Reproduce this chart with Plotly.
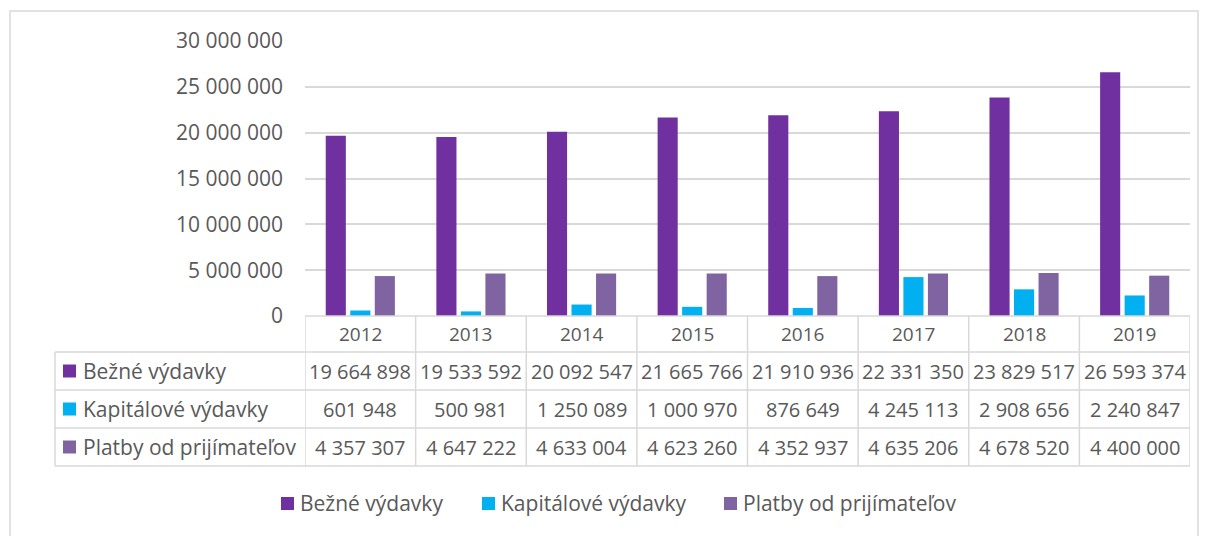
import plotly.graph_objects as go

years = ["2012", "2013", "2014", "2015", "2016", "2017", "2018", "2019"]
series_names = ["Bežné výdavky", "Kapitálové výdavky", "Platby od prijímateľov"]
bezne = [19664898, 19533592, 20092547, 21665766, 21910936, 22331350, 23829517, 26593374]
kapitalove = [601948, 500981, 1250089, 1000970, 876649, 4245113, 2908656, 2240847]
platby = [4357307, 4647222, 4633004, 4623260, 4352937, 4635206, 4678520, 4400000]
colors = ["#7030A0", "#00B0F0", "#8064A2"]
series_values = [bezne, kapitalove, platby]

W, H = 1208, 536
L, R, T, B = 305, 18, 41, 220
pw, ph = W - L - R, H - T - B

def px_x(p):
    return (p - L) / pw

def px_y(p):
    return (H - B - p) / ph

def fmt(v):
    return f"{v:,}".replace(",", " ")

TXT = "#595959"
GRID = "#D9D9D9"
FONT = "Open Sans"

fig = go.Figure()
for name, vals, c in zip(series_names, series_values, colors):
    fig.add_trace(go.Bar(x=years, y=vals, name=name, marker_color=c, marker_line_width=0,
                         showlegend=False))

shapes = []
annotations = []

# table geometry (pixels)
row_lines = [352, 390, 428, 466]
x_left = 55
shapes.append(dict(type="line", xref="paper", yref="paper", x0=0, x1=1, y0=0, y1=0,
                   line=dict(color=GRID, width=1.5)))
for rl in row_lines:
    shapes.append(dict(type="line", xref="paper", yref="paper", x0=px_x(x_left), x1=1,
                       y0=px_y(rl), y1=px_y(rl), line=dict(color=GRID, width=1.5)))
for i in range(len(years) + 1):
    shapes.append(dict(type="line", xref="x", yref="paper", x0=i - 0.5, x1=i - 0.5,
                       y0=0, y1=px_y(row_lines[-1]), line=dict(color=GRID, width=1.5)))
shapes.append(dict(type="line", xref="paper", yref="paper", x0=px_x(x_left), x1=px_x(x_left),
                   y0=px_y(row_lines[0]), y1=px_y(row_lines[-1]), line=dict(color=GRID, width=1.5)))
# outer border
shapes.append(dict(type="rect", xref="paper", yref="paper", x0=px_x(10), x1=px_x(1198),
                   y0=px_y(11), y1=px_y(545), line=dict(color=GRID, width=1.5)))

# header years
for i, yr in enumerate(years):
    annotations.append(dict(x=i, y=px_y(334), xref="x", yref="paper", text=yr, showarrow=False,
                            xanchor="center", yanchor="middle",
                            font=dict(family=FONT, size=19, color=TXT)))

# rows
row_centers = [371, 409, 447]
for name, vals, c, rc in zip(series_names, series_values, colors, row_centers):
    shapes.append(dict(type="rect", xref="paper", yref="paper", x0=px_x(63), x1=px_x(76),
                       y0=px_y(rc + 6.5), y1=px_y(rc - 6.5), fillcolor=c, line=dict(width=0)))
    annotations.append(dict(x=px_x(81), y=px_y(rc), xref="paper", yref="paper", text=name,
                            showarrow=False, xanchor="left", yanchor="middle",
                            font=dict(family=FONT, size=21, color=TXT)))
    for i, v in enumerate(vals):
        annotations.append(dict(x=i, y=px_y(rc), xref="x", yref="paper", text=fmt(v),
                                showarrow=False, xanchor="center", yanchor="middle",
                                font=dict(family=FONT, size=20, color=TXT)))

# legend (bottom)
leg_sq = [281, 482, 724]
for name, c, sx in zip(series_names, colors, leg_sq):
    shapes.append(dict(type="rect", xref="paper", yref="paper", x0=px_x(sx), x1=px_x(sx + 13),
                       y0=px_y(510), y1=px_y(497), fillcolor=c, line=dict(width=0)))
    annotations.append(dict(x=px_x(sx + 17), y=px_y(503), xref="paper", yref="paper", text=name,
                            showarrow=False, xanchor="left", yanchor="middle",
                            font=dict(family=FONT, size=21, color=TXT)))

fig.update_layout(
    width=W, height=H,
    margin=dict(l=L, r=R, t=T, b=B, autoexpand=False),
    paper_bgcolor="white", plot_bgcolor="white",
    separators=", ",
    barmode="group", bargap=0.335, bargroupgap=0.18,
    font=dict(family=FONT, color=TXT),
    shapes=shapes, annotations=annotations,
    showlegend=False,
)
fig.update_xaxes(range=[-0.5, 7.5], showticklabels=False, showgrid=False, zeroline=False,
                 showline=False, ticks="")
fig.update_yaxes(range=[0, 30000000], dtick=5000000, tickformat=",d", showgrid=True,
                 gridcolor=GRID, gridwidth=1.5, zeroline=False, showline=False,
                 tickfont=dict(family=FONT, size=21, color=TXT), ticklabelstandoff=21)

fig.write_html("out.html", config={"displayModeBar": False},
               post_script="document.body.style.margin='0px';")
